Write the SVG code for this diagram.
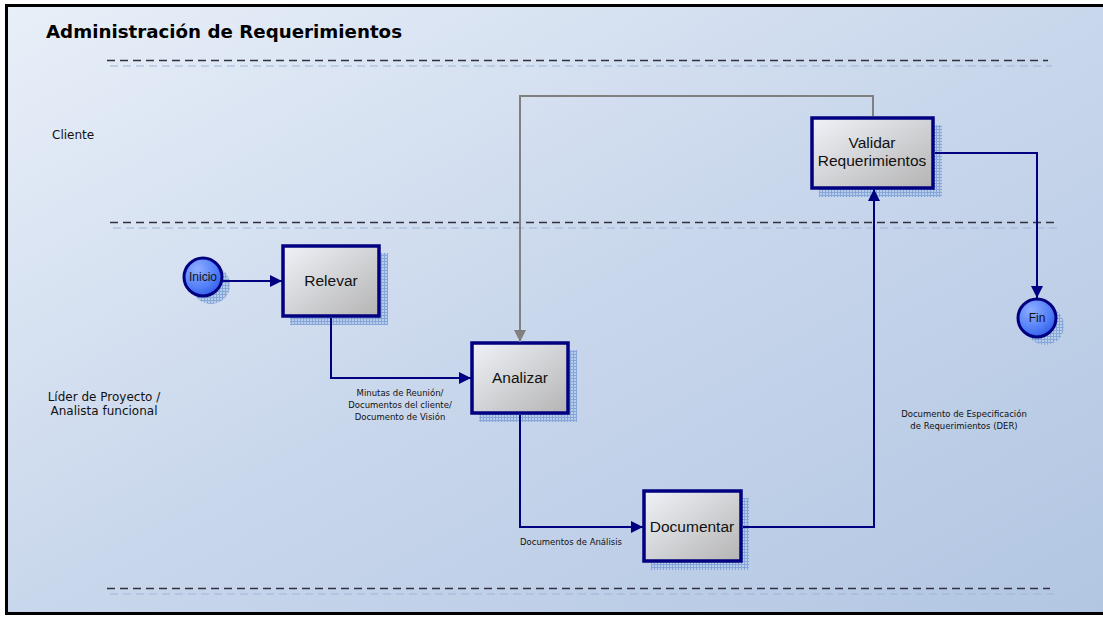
<svg xmlns="http://www.w3.org/2000/svg" width="1103" height="618" viewBox="0 0 1103 618">
  <defs>
    <linearGradient id="bg" x1="0" y1="0" x2="1" y2="1">
      <stop offset="0" stop-color="#e8eff8"/>
      <stop offset="0.5" stop-color="#c9d7ec"/>
      <stop offset="1" stop-color="#b2c6e2"/>
    </linearGradient>
    <linearGradient id="boxFill" x1="0" y1="0" x2="1" y2="1">
      <stop offset="0" stop-color="#f0f2f8"/>
      <stop offset="1" stop-color="#b4b4b4"/>
    </linearGradient>
    <radialGradient id="circleFill" cx="0.35" cy="0.3" r="0.8">
      <stop offset="0" stop-color="#8eaeff"/>
      <stop offset="0.6" stop-color="#5480f8"/>
      <stop offset="1" stop-color="#2a55e8"/>
    </radialGradient>
    <pattern id="hatch" width="3" height="3" patternUnits="userSpaceOnUse">
      <rect width="3" height="3" fill="#b8cdea"/>
      <path d="M0 0.5H3M0.5 0V3" stroke="#86a6d8" stroke-width="1"/>
    </pattern>
    <marker id="arrowNavy" viewBox="0 0 10 10" refX="10" refY="5" markerWidth="12" markerHeight="12" markerUnits="userSpaceOnUse" orient="auto">
      <path d="M0 0L10 5L0 10z" fill="#000080"/>
    </marker>
    <marker id="arrowGray" viewBox="0 0 10 10" refX="10" refY="5" markerWidth="12" markerHeight="12" markerUnits="userSpaceOnUse" orient="auto">
      <path d="M0 0L10 5L0 10z" fill="#808080"/>
    </marker>
  </defs>
  <style>
    .lane { stroke: #303040; stroke-width: 1.3; stroke-dasharray: 8 5; fill: none; }
    .laneShadow { stroke: #9fb5d8; stroke-width: 1; stroke-dasharray: 8 5; fill: none; }
    .box { fill: url(#boxFill); stroke: #000080; stroke-width: 3.5; }
    .shadow { fill: url(#hatch); }
    .circle { fill: url(#circleFill); stroke: #000080; stroke-width: 3; }
    .conn { fill: none; stroke: #000080; stroke-width: 2; }
    .connGray { fill: none; stroke: #808080; stroke-width: 2; }
    .nodeText { font-family: "Liberation Sans", Arial, sans-serif; font-size: 15.5px; fill: #111; text-anchor: middle; }
    .circleText { font-family: "Liberation Sans", Arial, sans-serif; font-size: 12px; fill: #111; text-anchor: middle; }
    .laneText { font-family: "DejaVu Sans", Verdana, sans-serif; font-size: 12px; fill: #111; }
    .edgeText { font-family: "DejaVu Sans", Verdana, sans-serif; font-size: 8.5px; fill: #111; text-anchor: middle; }
    .title { font-family: "DejaVu Sans", Verdana, sans-serif; font-size: 17px; font-weight: bold; fill: #000; }
  </style>

  <!-- background and frame -->
  <rect x="6.5" y="5.5" width="1100" height="608" fill="url(#bg)" stroke="#000" stroke-width="3"/>

  <text class="title" x="46" y="38" textLength="356" lengthAdjust="spacingAndGlyphs">Administración de Requerimientos</text>

  <!-- swimlane separators -->
  <g id="lanes">
    <line class="laneShadow" x1="110" y1="66" x2="1052" y2="66"/>
    <line class="lane" x1="107" y1="60.5" x2="1048" y2="60.5"/>
    <line class="laneShadow" x1="113" y1="228" x2="1058" y2="228"/>
    <line class="lane" x1="110" y1="222.5" x2="1054" y2="222.5"/>
    <line class="laneShadow" x1="110" y1="594" x2="1054" y2="594"/>
    <line class="lane" x1="107" y1="588.5" x2="1050" y2="588.5"/>
    <text class="laneText" x="52" y="139">Cliente</text>
    <text class="laneText" x="104" y="401" text-anchor="middle">Líder de Proyecto /</text>
    <text class="laneText" x="104" y="415" text-anchor="middle">Analista funcional</text>
  </g>

  <!-- nodes -->
  <g id="inicio">
    <circle class="shadow" cx="211" cy="285" r="19"/>
    <circle class="circle" cx="203" cy="277" r="19"/>
    <text class="circleText" x="203" y="281">Inicio</text>
  </g>
  <g id="relevar">
    <rect class="shadow" x="290" y="253" width="98" height="72"/>
    <rect class="box" x="283" y="246" width="96" height="70"/>
    <text class="nodeText" x="331" y="286">Relevar</text>
  </g>
  <g id="analizar">
    <rect class="shadow" x="479" y="350" width="98" height="72"/>
    <rect class="box" x="472" y="343" width="96" height="70"/>
    <text class="nodeText" x="520" y="383">Analizar</text>
  </g>
  <g id="documentar">
    <rect class="shadow" x="651" y="498" width="98" height="72"/>
    <rect class="box" x="644" y="491" width="97" height="70"/>
    <text class="nodeText" x="692" y="532">Documentar</text>
  </g>
  <g id="validar">
    <rect class="shadow" x="819" y="125" width="123" height="72"/>
    <rect class="box" x="812" y="118" width="121" height="70"/>
    <text class="nodeText" x="872" y="148">Validar</text>
    <text class="nodeText" x="872" y="166">Requerimientos</text>
  </g>
  <g id="fin">
    <circle class="shadow" cx="1045" cy="326" r="19"/>
    <circle class="circle" cx="1037" cy="318" r="19"/>
    <text class="circleText" x="1037" y="322">Fin</text>
  </g>

  <!-- connectors, drawn above the node shadows -->
  <g id="connectors">
    <path class="conn" d="M222 281H282" marker-end="url(#arrowNavy)"/>
    <path class="conn" d="M331 318V378H471" marker-end="url(#arrowNavy)"/>
    <path class="conn" d="M520 415V527H643" marker-end="url(#arrowNavy)"/>
    <path class="conn" d="M743 527H874V189" marker-end="url(#arrowNavy)"/>
    <path class="conn" d="M935 153H1037V298" marker-end="url(#arrowNavy)"/>
    <path class="connGray" d="M873 116V96H520V342" marker-end="url(#arrowGray)"/>
    <text class="edgeText" x="400" y="396">Minutas de Reunión/</text>
    <text class="edgeText" x="400" y="408">Documentos del cliente/</text>
    <text class="edgeText" x="400" y="420">Documento de Visión</text>
    <text class="edgeText" x="571" y="545">Documentos de Análisis</text>
    <text class="edgeText" x="964" y="417">Documento de Especificación</text>
    <text class="edgeText" x="964" y="429">de Requerimientos (DER)</text>
  </g>
</svg>
